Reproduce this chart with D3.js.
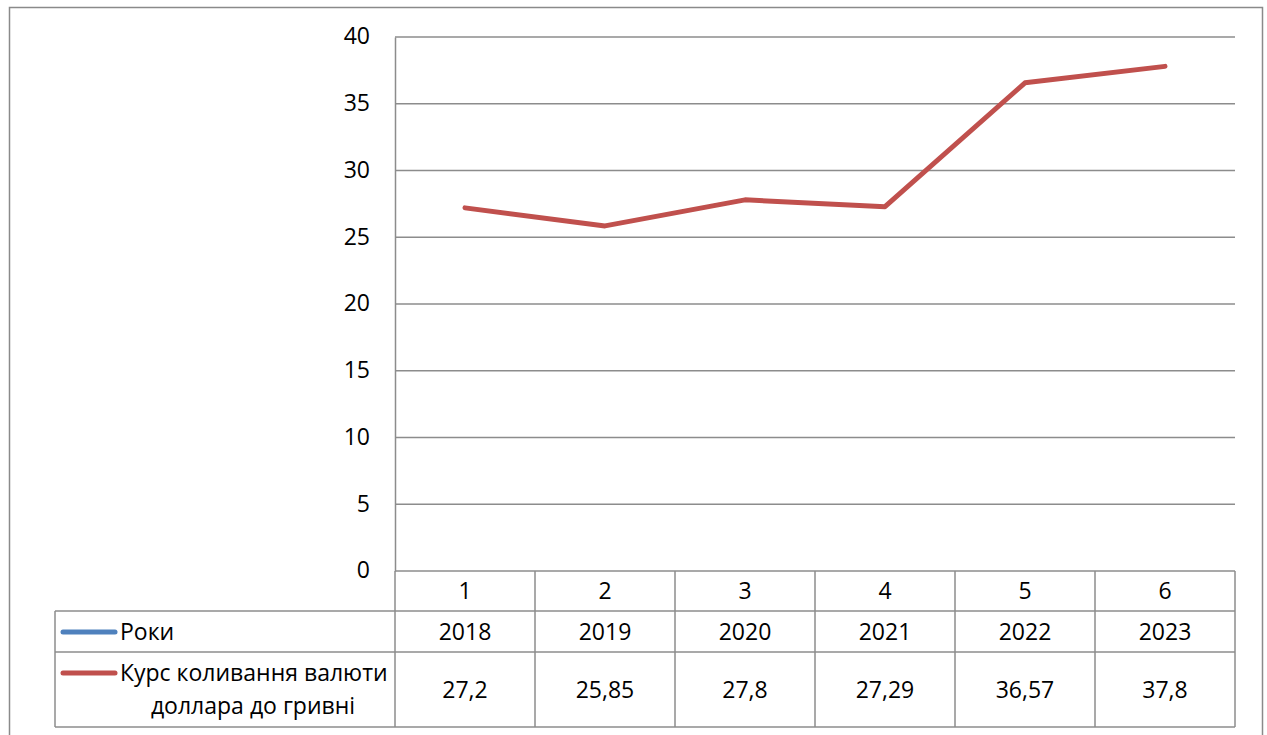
<!DOCTYPE html>
<html>
<head>
<meta charset="utf-8">
<script src="https://cdn.jsdelivr.net/npm/d3@7"></script>
<style>
  html, body { margin: 0; padding: 0; background: #fff; }
  svg { display: block; }
  text { font-family: "Open Sans", "Liberation Sans", sans-serif; fill: #000; }
</style>
</head>
<body>
<svg id="chart" width="1267" height="735"></svg>
<script>
// Exchange rate of the US dollar to the hryvnia, 2018–2023
const categories = ["1", "2", "3", "4", "5", "6"];
const years = ["2018", "2019", "2020", "2021", "2022", "2023"];
const rates = [27.2, 25.85, 27.8, 27.29, 36.57, 37.8];
const rateLabels = ["27,2", "25,85", "27,8", "27,29", "36,57", "37,8"];
const yTicks = [0, 5, 10, 15, 20, 25, 30, 35, 40];
const seriesNames = ["Роки", ["Курс коливання валюти", "доллара до гривні"]];
const colors = { years: "#4F81BD", rate: "#C0504D" };

const svg = d3.select("#chart");
const W = 1267, H = 735;

// plot geometry
const plot = { left: 395, right: 1235, top: 37, bottom: 571 };
const tableLeft = 55;
const rowY = [571, 611, 652, 727];
const fs = 23;

// outer chart frame (bottom edge runs off the page)
svg.append("path")
  .attr("d", `M9.5,${H + 2} V7.5 H1262.5 V${H + 2}`)
  .attr("fill", "none")
  .attr("stroke", "#8a8a8a")
  .attr("stroke-width", 1.5);

const x = d3.scaleBand().domain(categories).range([plot.left, plot.right]).padding(0);
const y = d3.scaleLinear().domain([0, 40]).range([plot.bottom, plot.top]);

// horizontal gridlines
svg.append("g")
  .selectAll("line")
  .data(yTicks.filter(d => d > 0))
  .join("line")
  .attr("x1", plot.left).attr("x2", plot.right)
  .attr("y1", d => y(d)).attr("y2", d => y(d))
  .attr("stroke", "#8c8c8c")
  .attr("stroke-width", 1.5);

// value axis
const yAxis = svg.append("g")
  .attr("transform", `translate(${plot.left},0)`)
  .call(d3.axisLeft(y).tickValues(yTicks).tickSize(0).tickPadding(25).tickFormat(d3.format("d")));
yAxis.select(".domain").attr("stroke", "#8c8c8c").attr("stroke-width", 1.5);
yAxis.selectAll("text")
  .attr("font-size", fs)
  .attr("dy", "0.3em")
  .style("font-family", '"Open Sans", "Liberation Sans", sans-serif')
  .attr("fill", "#000");

// data table
const table = svg.append("g");

// horizontal table rules
table.append("line")
  .attr("x1", plot.left).attr("x2", plot.right)
  .attr("y1", rowY[0]).attr("y2", rowY[0]);
[rowY[1], rowY[2], rowY[3]].forEach(yy => {
  table.append("line")
    .attr("x1", tableLeft).attr("x2", plot.right)
    .attr("y1", yy).attr("y2", yy);
});
// vertical table rules
table.append("line")
  .attr("x1", tableLeft).attr("x2", tableLeft)
  .attr("y1", rowY[1]).attr("y2", rowY[3]);
categories.concat(["end"]).forEach((c, i) => {
  const xx = i < categories.length ? x(c) : plot.right;
  table.append("line")
    .attr("x1", xx).attr("x2", xx)
    .attr("y1", rowY[0]).attr("y2", rowY[3]);
});
table.selectAll("line")
  .attr("stroke", "#8c8c8c")
  .attr("stroke-width", 1.5);

const cx = c => x(c) + x.bandwidth() / 2;

// category row
table.selectAll("text.cat")
  .data(categories)
  .join("text")
  .attr("class", "cat")
  .attr("x", d => cx(d))
  .attr("y", (rowY[0] + rowY[1]) / 2)
  .attr("dy", "0.35em")
  .attr("text-anchor", "middle")
  .attr("font-size", fs)
  .text(d => d);

// years row
table.selectAll("text.year")
  .data(years)
  .join("text")
  .attr("class", "year")
  .attr("x", (d, i) => cx(categories[i]))
  .attr("y", (rowY[1] + rowY[2]) / 2)
  .attr("dy", "0.35em")
  .attr("text-anchor", "middle")
  .attr("font-size", fs)
  .text(d => d);

// rate row
table.selectAll("text.rate")
  .data(rateLabels)
  .join("text")
  .attr("class", "rate")
  .attr("x", (d, i) => cx(categories[i]))
  .attr("y", (rowY[2] + rowY[3]) / 2)
  .attr("dy", "0.35em")
  .attr("text-anchor", "middle")
  .attr("font-size", fs)
  .text(d => d);

// legend keys in the row headers
table.append("line")
  .attr("x1", 63).attr("x2", 115)
  .attr("y1", 632).attr("y2", 632)
  .attr("stroke", colors.years).attr("stroke-width", 5).attr("stroke-linecap", "round");
table.append("text")
  .attr("x", 120).attr("y", (rowY[1] + rowY[2]) / 2)
  .attr("dy", "0.35em")
  .attr("font-size", fs)
  .text(seriesNames[0]);

table.append("line")
  .attr("x1", 63).attr("x2", 115)
  .attr("y1", 673).attr("y2", 673)
  .attr("stroke", colors.rate).attr("stroke-width", 5).attr("stroke-linecap", "round");
table.append("text")
  .attr("x", 120).attr("y", 673)
  .attr("dy", "0.35em")
  .attr("font-size", fs)
  .text(seriesNames[1][0]);
table.append("text")
  .attr("x", 253).attr("y", 706)
  .attr("dy", "0.35em")
  .attr("text-anchor", "middle")
  .attr("font-size", fs)
  .text(seriesNames[1][1]);

// exchange rate line
const line = d3.line()
  .x((d, i) => cx(categories[i]))
  .y(d => y(d));
svg.append("path")
  .datum(rates)
  .attr("d", line)
  .attr("fill", "none")
  .attr("stroke", colors.rate)
  .attr("stroke-width", 5)
  .attr("stroke-linecap", "round")
  .attr("stroke-linejoin", "round");
</script>
</body>
</html>
